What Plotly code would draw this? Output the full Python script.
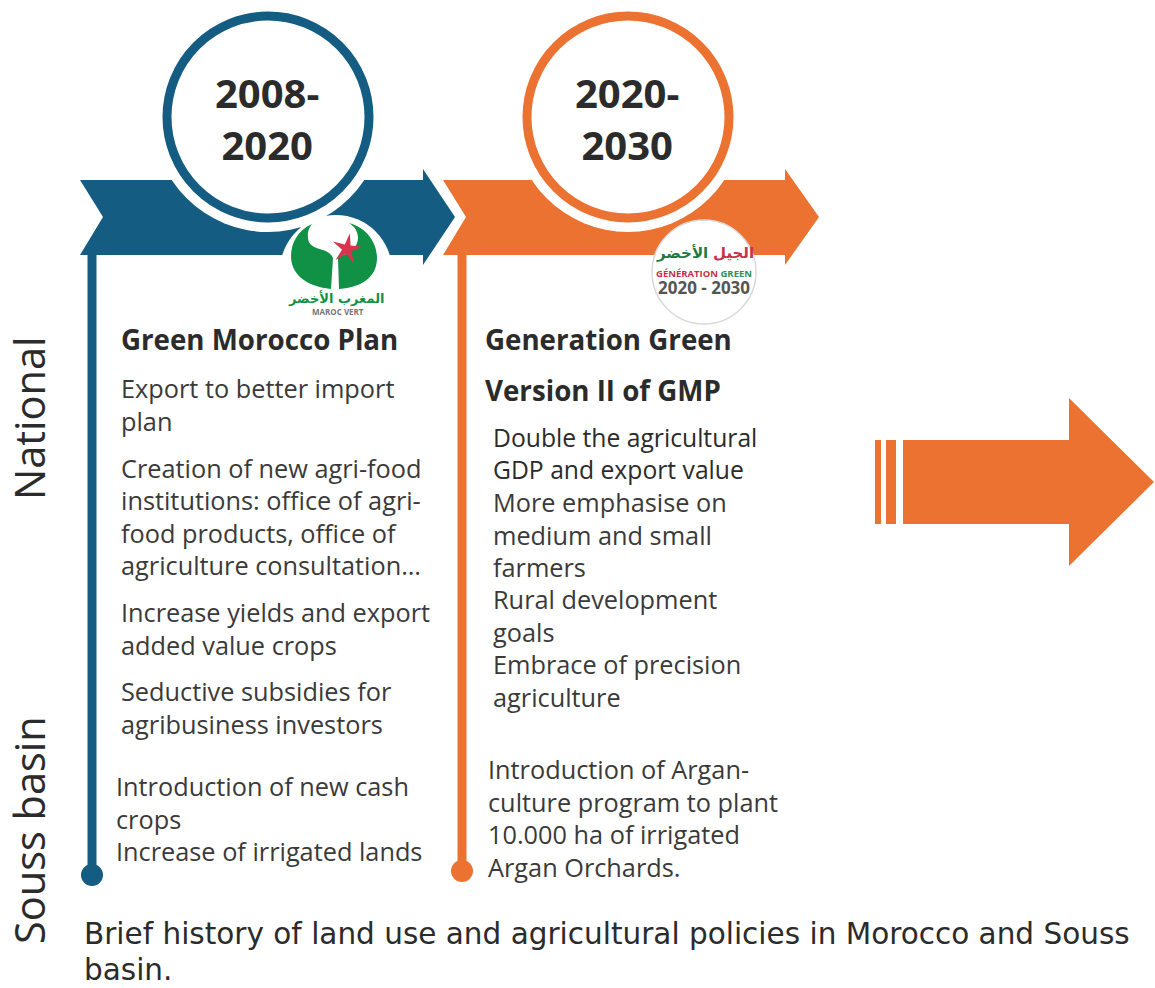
import math
import plotly.graph_objects as go

BLUE = "#145C82"
ORANGE = "#EB7230"
INK = "#2B2B2B"
FONT = "Open Sans"
GREEN = "#119145"
RED = "#C9304C"

years = [("2008-", "2020", 268), ("2020-", "2030", 628)]

headings = [
    ("Green Morocco Plan", 121, 340),
    ("Generation Green", 485, 340),
    ("Version II of GMP", 485, 391),
]

body = [
    ("Export to better import", 121, 389),
    ("plan", 121, 422),
    ("Creation of new agri-food", 121, 469),
    ("institutions: office of agri-", 121, 501),
    ("food products, office of", 121, 534),
    ("agriculture consultation…", 121, 566),
    ("Increase yields and export", 121, 613),
    ("added value crops", 121, 646),
    ("Seductive subsidies for", 121, 692),
    ("agribusiness investors", 121, 725),
    ("Introduction of new cash", 116, 787),
    ("crops", 116, 820),
    ("Increase of irrigated lands", 116, 852),
    ("More emphasise on", 493, 503),
    ("medium and small", 493, 536),
    ("farmers", 493, 568),
    ("Rural development", 493, 600),
    ("goals", 493, 633),
    ("Embrace of precision", 493, 665),
    ("agriculture", 493, 698),
    ("Introduction of Argan-", 488, 770),
    ("culture program to plant", 488, 803),
    ("10.000 ha of irrigated", 488, 835),
    ("Argan Orchards.", 488, 868),
]

body_narrow = [
    ("Double the agricultural", 493, 438),
    ("GDP and export value", 493, 470),
]

caption = [
    ("Brief history of land use and agricultural policies in Morocco and Souss", 84, 935),
    ("basin.", 84, 971),
]

side_labels = [("National", 31, 418), ("Souss basin", 31, 830)]

chevrons = [
    (BLUE, [(80, 180), (423, 180), (423, 169), (455, 217), (423, 265), (423, 255), (80, 255), (103, 217)]),
    (ORANGE, [(443, 180), (785, 180), (785, 169), (819, 217), (785, 265), (785, 255), (443, 255), (466, 217)]),
]

big_arrow = [(903, 440), (1069, 440), (1069, 398), (1154, 482), (1069, 566), (1069, 524), (903, 524)]
stripes = [(875, 881), (886, 896)]

timelines = [(BLUE, 92, 255, 875), (ORANGE, 462, 255, 871)]


def poly(pts):
    return "M" + " L".join(f"{x},{y}" for x, y in pts) + " Z"


def circle(cx, cy, r, fill, line=None, width=0):
    return dict(type="circle", x0=cx - r, x1=cx + r, y0=cy - r, y1=cy + r,
                fillcolor=fill, line=dict(color=line or fill, width=width))


shapes = []
for color, pts in chevrons:
    shapes.append(dict(type="path", path=poly(pts), fillcolor=color, line=dict(width=0)))
for color, x, y0, y1 in timelines:
    shapes.append(dict(type="line", x0=x, x1=x, y0=y0, y1=y1, line=dict(color=color, width=9)))
    shapes.append(circle(x, y1, 11, color))

shapes.append(dict(type="path", path=poly(big_arrow), fillcolor=ORANGE, line=dict(width=0)))
for a, b in stripes:
    shapes.append(dict(type="rect", x0=a, x1=b, y0=440, y1=524, fillcolor=ORANGE, line=dict(width=0)))

# year rings
shapes.append(circle(268, 117, 115, "white"))
shapes.append(circle(268, 117, 101, "white", BLUE, 9))
shapes.append(circle(628, 117, 115, "white"))
shapes.append(circle(628, 117, 101, "white", ORANGE, 9))

# Green Morocco logo
shapes.append(circle(336, 271, 56, "white"))
shapes.append(dict(type="path",
                   path="M312,224 C298,230 291,243 291,256 C291,273 304,286 331,289 L333,258 "
                        "C328,246 309,252 308,238 C307,231 310,227 312,224 Z",
                   fillcolor=GREEN, line=dict(width=0)))
shapes.append(dict(type="path",
                   path="M349,223 C368,228 377,244 377,258 C377,274 366,287 339,289 L338,258 "
                        "C345,254 358,250 358,238 C358,231 354,226 349,223 Z",
                   fillcolor=GREEN, line=dict(width=0)))
star = []
for i in range(10):
    r = 16 if i % 2 == 0 else 5
    a = math.radians(-80 + i * 36)
    star.append((round(347 + r * math.cos(a), 1), round(249 + r * math.sin(a), 1)))
shapes.append(dict(type="path", path=poly(star), fillcolor="#D8344F", line=dict(width=0)))

# Generation Green logo
shapes.append(circle(704, 272, 52, "white", "#D9D9D9", 1.5))

ann = []


def label(text, x, y, size, color=INK, weight=400, anchor="left", angle=0, family=FONT, align="left"):
    ann.append(dict(text=text, x=x, y=y, xref="x", yref="y", showarrow=False, xanchor=anchor,
                    yanchor="middle", textangle=angle, align=align,
                    font=dict(size=size, color=color, family=family, weight=weight)))


for first, second, cx in years:
    label(f"{first}<br>{second}", cx - 1, 118, 40, weight=700, anchor="center", align="center")
for text, x, y in headings:
    label(text, x - 2, y - 1, 27.7, weight=700)
for text, x, y in body:
    label(text, x - 2, y - 1, 25.3, color="#3A3A3A")
for text, x, y in body_narrow:
    label(text, x - 2, y - 1, 24.7, color="#2B2B2B")
for text, x, y in caption:
    label(text, x - 2, y - 1, 29.5, family="DejaVu Sans")
for text, x, y in side_labels:
    label(text, x - 2, y, 41.5, angle=-90, anchor="center")

label("المغرب الأخضر", 336, 298, 13, color=GREEN, weight=700, anchor="center", family="DejaVu Sans")
label("MAROC VERT", 338, 311, 8, color="#777777", weight=700, anchor="center")
label("الأخضر", 682, 253, 15, color="#1E7A45", weight=700, anchor="center", family="DejaVu Sans")
label("الجيل", 733, 253, 15, color=RED, weight=700, anchor="center", family="DejaVu Sans")
label(f'<span style="color:{RED}">GÉNÉRATION</span> <span style="color:#2F8F5B">GREEN</span>',
      704, 273, 9.5, weight=700, anchor="center")
label("2020 - 2030", 704, 287, 17, color="#555555", weight=700, anchor="center")

fig = go.Figure()
fig.add_trace(go.Scatter(x=[0, 1155], y=[0, 988], mode="markers", marker=dict(opacity=0), hoverinfo="skip", showlegend=False))
fig.update_layout(
    width=1155, height=988, margin=dict(l=0, r=0, t=0, b=0),
    paper_bgcolor="white", plot_bgcolor="white", showlegend=False,
    xaxis=dict(range=[0, 1155], visible=False, fixedrange=True),
    yaxis=dict(range=[988, 0], visible=False, fixedrange=True),
    shapes=shapes, annotations=ann,
)
fig.write_html("out.html", config={"displayModeBar": False},
               post_script="document.body.style.margin='0';document.documentElement.style.overflow='hidden';")
